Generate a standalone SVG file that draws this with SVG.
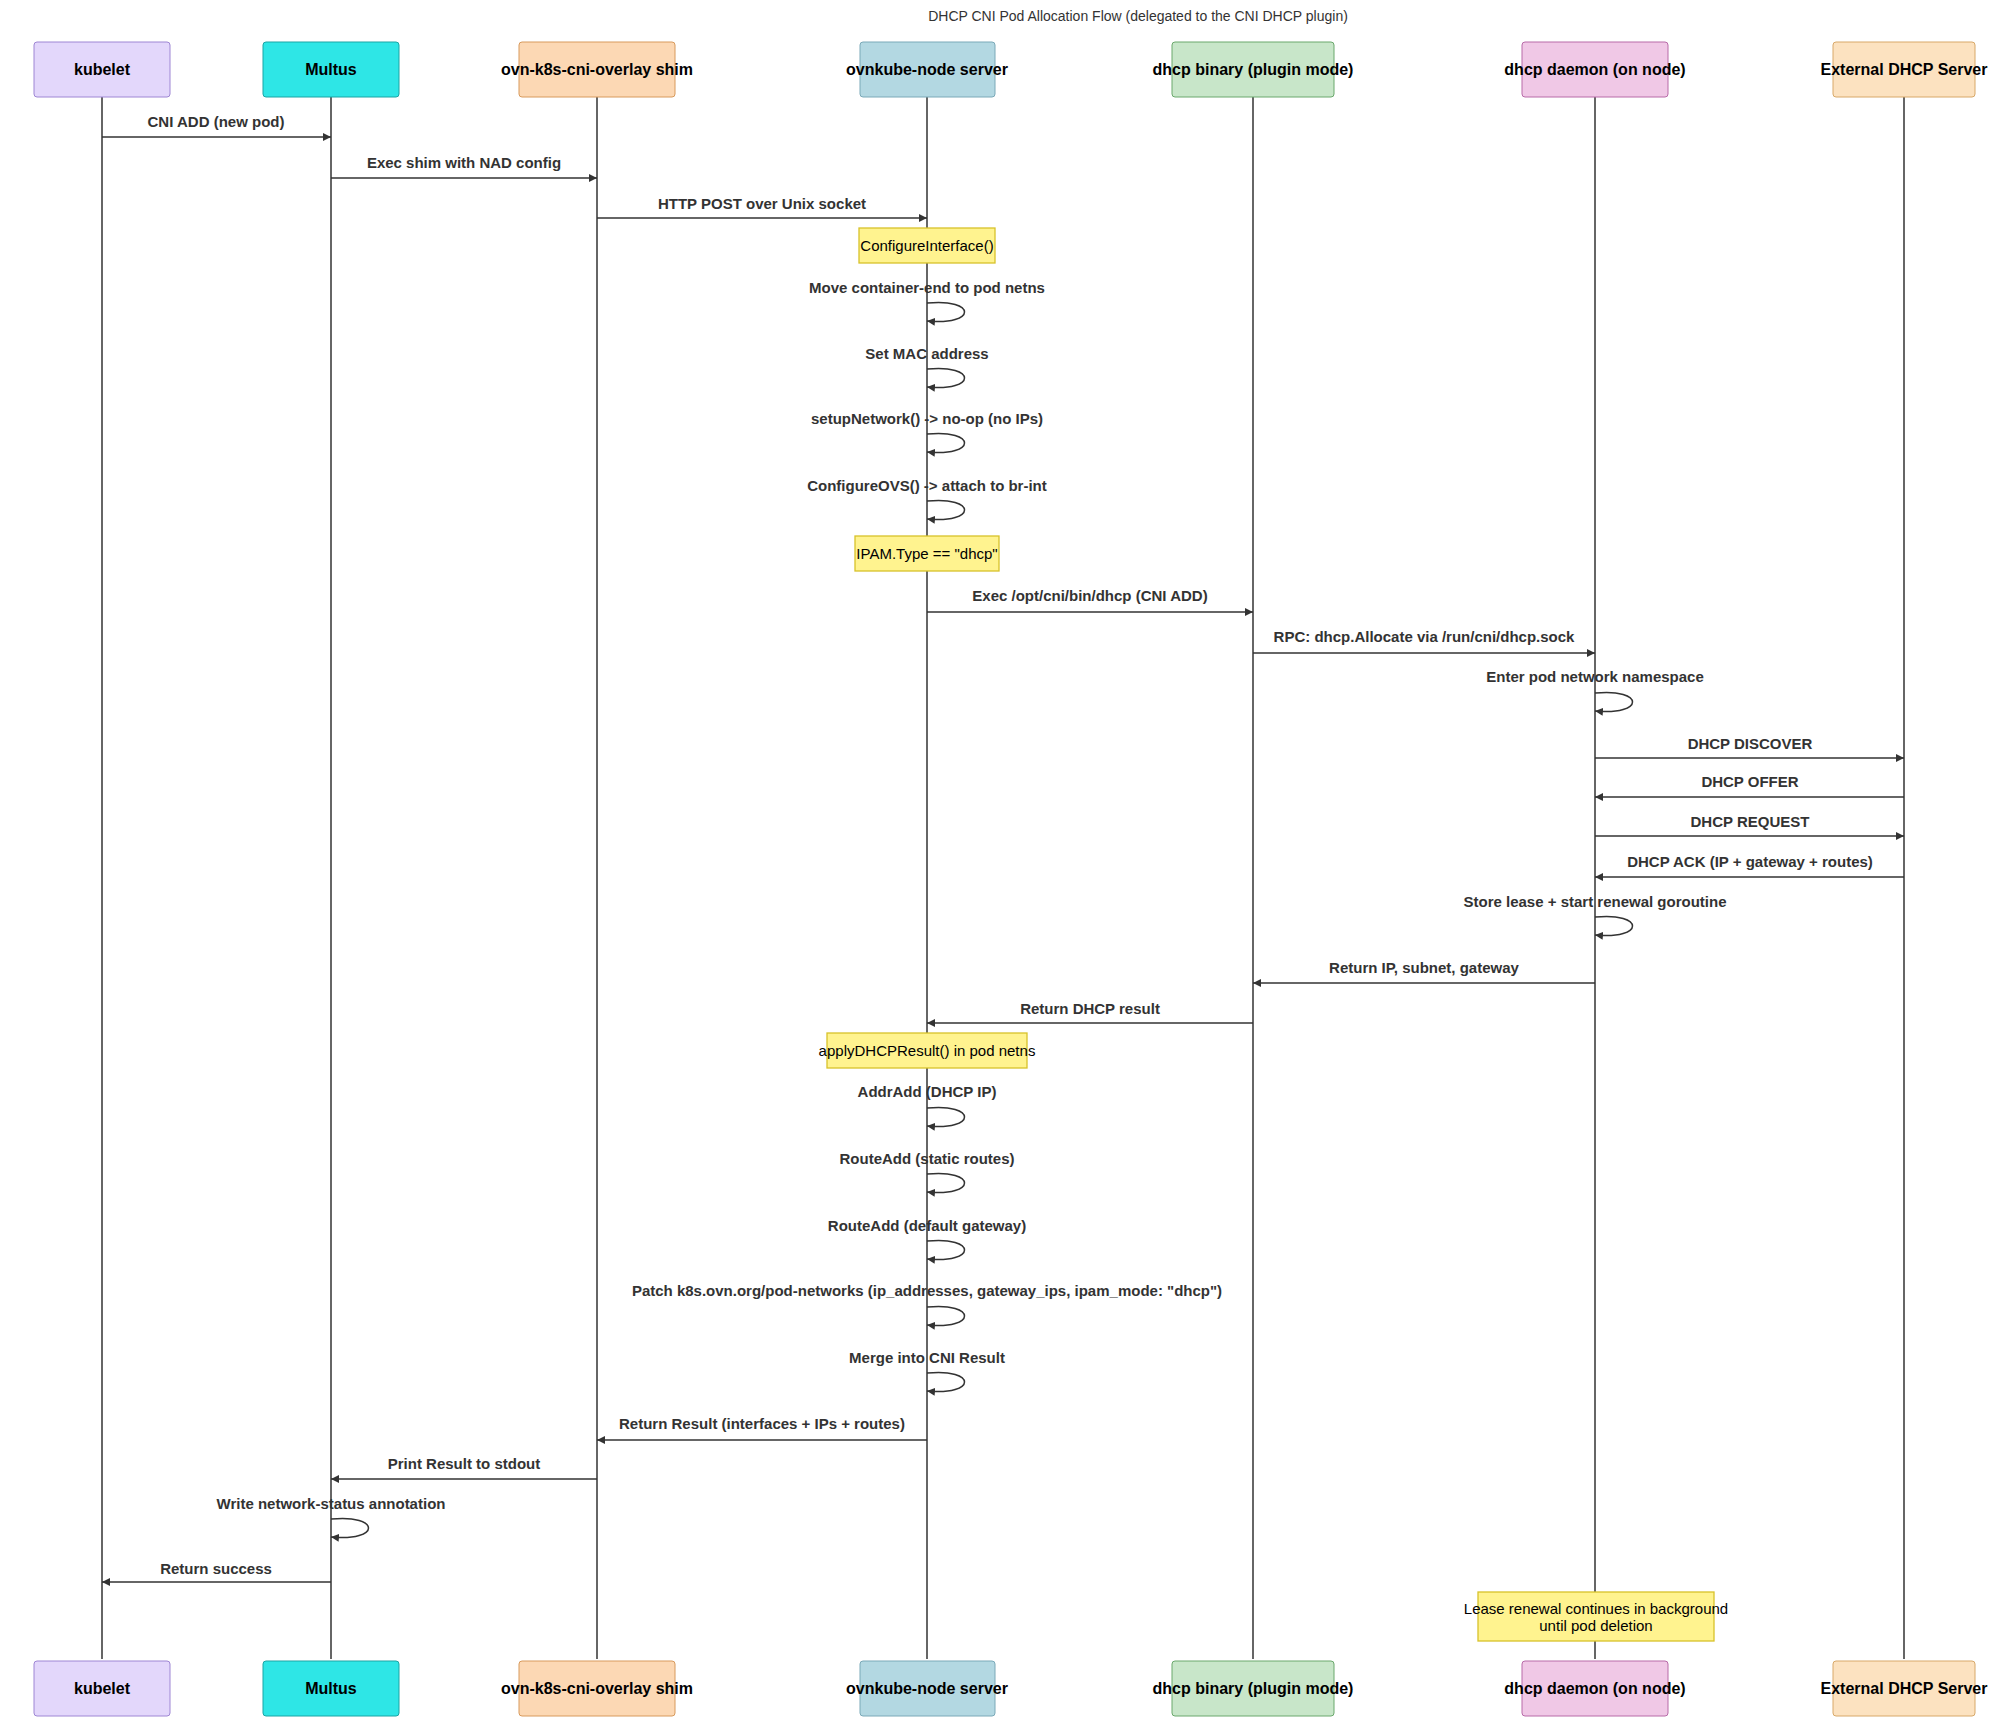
<svg xmlns="http://www.w3.org/2000/svg" width="2000" height="1718" viewBox="0 0 2000 1718">
<style>
text{font-family:"Liberation Sans",Arial,sans-serif;fill:#333}
.actor{font-size:16px;font-weight:bold;fill:#000;text-anchor:middle;dominant-baseline:central}
.msg{font-size:15px;font-weight:bold;text-anchor:middle}
.note{fill:#fff38f;stroke:#d8c22a;stroke-width:1.3}
.nt{font-size:15px;fill:#000;text-anchor:middle;dominant-baseline:central}
.life{stroke:#333;stroke-width:1.5}
.m{stroke:#333;stroke-width:1.5;fill:none;marker-end:url(#ah)}
</style>
<defs>
<marker id="ah" viewBox="0 0 10 10" refX="10" refY="5" markerWidth="8" markerHeight="8" orient="auto" markerUnits="userSpaceOnUse"><path d="M0,0L10,5L0,10z" fill="#333"/></marker>
</defs>
<rect width="2000" height="1718" fill="#fff"/>
<text x="1138" y="21" style="font-size:14px;text-anchor:middle">DHCP CNI Pod Allocation Flow (delegated to the CNI DHCP plugin)</text>
<g id="lifelines">
<line class="life" x1="102" y1="97" x2="102" y2="1659"/>
<line class="life" x1="331" y1="97" x2="331" y2="1659"/>
<line class="life" x1="597" y1="97" x2="597" y2="1659"/>
<line class="life" x1="927" y1="97" x2="927" y2="1659"/>
<line class="life" x1="1253" y1="97" x2="1253" y2="1659"/>
<line class="life" x1="1595" y1="97" x2="1595" y2="1659"/>
<line class="life" x1="1904" y1="97" x2="1904" y2="1659"/>
</g>
<g id="kubelet"><rect x="34" y="42" width="136" height="55" rx="3" fill="#e3d7fb" stroke="#9e86d4"/><text class="actor" x="102" y="69.5">kubelet</text><rect x="34" y="1661" width="136" height="55" rx="3" fill="#e3d7fb" stroke="#9e86d4"/><text class="actor" x="102" y="1688.5">kubelet</text></g>
<g id="multus"><rect x="263" y="42" width="136" height="55" rx="3" fill="#2ee6e6" stroke="#1aa5a5"/><text class="actor" x="331" y="69.5">Multus</text><rect x="263" y="1661" width="136" height="55" rx="3" fill="#2ee6e6" stroke="#1aa5a5"/><text class="actor" x="331" y="1688.5">Multus</text></g>
<g id="shim"><rect x="519" y="42" width="156" height="55" rx="3" fill="#fcd8b4" stroke="#d89a5c"/><text class="actor" x="597" y="69.5">ovn-k8s-cni-overlay shim</text><rect x="519" y="1661" width="156" height="55" rx="3" fill="#fcd8b4" stroke="#d89a5c"/><text class="actor" x="597" y="1688.5">ovn-k8s-cni-overlay shim</text></g>
<g id="ovnkube"><rect x="860" y="42" width="135" height="55" rx="3" fill="#b3d8e2" stroke="#7aa9b8"/><text class="actor" x="927" y="69.5">ovnkube-node server</text><rect x="860" y="1661" width="135" height="55" rx="3" fill="#b3d8e2" stroke="#7aa9b8"/><text class="actor" x="927" y="1688.5">ovnkube-node server</text></g>
<g id="dhcpbin"><rect x="1172" y="42" width="162" height="55" rx="3" fill="#c8e6c9" stroke="#6aa86c"/><text class="actor" x="1253" y="69.5">dhcp binary (plugin mode)</text><rect x="1172" y="1661" width="162" height="55" rx="3" fill="#c8e6c9" stroke="#6aa86c"/><text class="actor" x="1253" y="1688.5">dhcp binary (plugin mode)</text></g>
<g id="daemon"><rect x="1522" y="42" width="146" height="55" rx="3" fill="#f0c8e6" stroke="#b86aa8"/><text class="actor" x="1595" y="69.5">dhcp daemon (on node)</text><rect x="1522" y="1661" width="146" height="55" rx="3" fill="#f0c8e6" stroke="#b86aa8"/><text class="actor" x="1595" y="1688.5">dhcp daemon (on node)</text></g>
<g id="external"><rect x="1833" y="42" width="142" height="55" rx="3" fill="#fce2c0" stroke="#d8a868"/><text class="actor" x="1904" y="69.5">External DHCP Server</text><rect x="1833" y="1661" width="142" height="55" rx="3" fill="#fce2c0" stroke="#d8a868"/><text class="actor" x="1904" y="1688.5">External DHCP Server</text></g>
<g id="notes">
<rect class="note" x="859" y="228" width="136" height="35"/><text class="nt" x="927" y="245.5">ConfigureInterface()</text>
<rect class="note" x="855" y="536" width="144" height="35"/><text class="nt" x="927" y="553.5">IPAM.Type == "dhcp"</text>
<rect class="note" x="827" y="1033" width="200" height="35"/><text class="nt" x="927" y="1050.5">applyDHCPResult() in pod netns</text>
<rect class="note" x="1478" y="1592" width="236" height="49"/><text class="nt" x="1596" y="1608">Lease renewal continues in background</text><text class="nt" x="1596" y="1625">until pod deletion</text>
</g>
<g id="connectors">
<text class="msg" x="216" y="127">CNI ADD (new pod)</text><line class="m" x1="102" y1="137" x2="331" y2="137"/>
<text class="msg" x="464" y="168">Exec shim with NAD config</text><line class="m" x1="331" y1="178" x2="597" y2="178"/>
<text class="msg" x="762" y="209">HTTP POST over Unix socket</text><line class="m" x1="597" y1="218" x2="927" y2="218"/>
<text class="msg" x="927" y="293">Move container-end to pod netns</text><path class="m" d="M927,303 C977,298 977,326 927,321"/>
<text class="msg" x="927" y="359">Set MAC address</text><path class="m" d="M927,369 C977,364 977,392 927,387"/>
<text class="msg" x="927" y="424">setupNetwork() -&gt; no-op (no IPs)</text><path class="m" d="M927,434 C977,429 977,457 927,452"/>
<text class="msg" x="927" y="491">ConfigureOVS() -&gt; attach to br-int</text><path class="m" d="M927,501 C977,496 977,524 927,519"/>
<text class="msg" x="1090" y="601">Exec /opt/cni/bin/dhcp (CNI ADD)</text><line class="m" x1="927" y1="612" x2="1253" y2="612"/>
<text class="msg" x="1424" y="642">RPC: dhcp.Allocate via /run/cni/dhcp.sock</text><line class="m" x1="1253" y1="653" x2="1595" y2="653"/>
<text class="msg" x="1595" y="682">Enter pod network namespace</text><path class="m" d="M1595,693 C1645,688 1645,716 1595,711"/>
<text class="msg" x="1750" y="749">DHCP DISCOVER</text><line class="m" x1="1595" y1="758" x2="1904" y2="758"/>
<text class="msg" x="1750" y="787">DHCP OFFER</text><line class="m" x1="1904" y1="797" x2="1595" y2="797"/>
<text class="msg" x="1750" y="827">DHCP REQUEST</text><line class="m" x1="1595" y1="836" x2="1904" y2="836"/>
<text class="msg" x="1750" y="867">DHCP ACK (IP + gateway + routes)</text><line class="m" x1="1904" y1="877" x2="1595" y2="877"/>
<text class="msg" x="1595" y="907">Store lease + start renewal goroutine</text><path class="m" d="M1595,917 C1645,912 1645,940 1595,935"/>
<text class="msg" x="1424" y="973">Return IP, subnet, gateway</text><line class="m" x1="1595" y1="983" x2="1253" y2="983"/>
<text class="msg" x="1090" y="1014">Return DHCP result</text><line class="m" x1="1253" y1="1023" x2="927" y2="1023"/>
<text class="msg" x="927" y="1097">AddrAdd (DHCP IP)</text><path class="m" d="M927,1108 C977,1103 977,1131 927,1126"/>
<text class="msg" x="927" y="1164">RouteAdd (static routes)</text><path class="m" d="M927,1174 C977,1169 977,1197 927,1192"/>
<text class="msg" x="927" y="1231">RouteAdd (default gateway)</text><path class="m" d="M927,1241 C977,1236 977,1264 927,1259"/>
<text class="msg" x="927" y="1296">Patch k8s.ovn.org/pod-networks (ip_addresses, gateway_ips, ipam_mode: "dhcp")</text><path class="m" d="M927,1307 C977,1302 977,1330 927,1325"/>
<text class="msg" x="927" y="1363">Merge into CNI Result</text><path class="m" d="M927,1373 C977,1368 977,1396 927,1391"/>
<text class="msg" x="762" y="1429">Return Result (interfaces + IPs + routes)</text><line class="m" x1="927" y1="1440" x2="597" y2="1440"/>
<text class="msg" x="464" y="1469">Print Result to stdout</text><line class="m" x1="597" y1="1479" x2="331" y2="1479"/>
<text class="msg" x="331" y="1509">Write network-status annotation</text><path class="m" d="M331,1519 C381,1514 381,1542 331,1537"/>
<text class="msg" x="216" y="1574">Return success</text><line class="m" x1="331" y1="1582" x2="102" y2="1582"/>
</g>
</svg>
